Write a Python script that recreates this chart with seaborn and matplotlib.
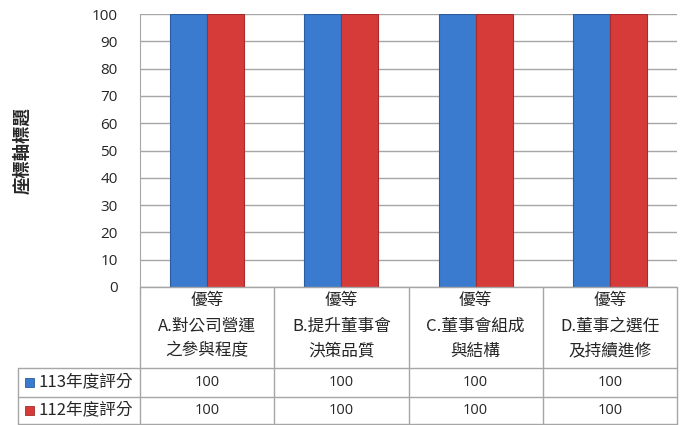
import pandas as pd
import seaborn as sns
import matplotlib.pyplot as plt
import matplotlib.transforms as mtransforms
from matplotlib.lines import Line2D
from matplotlib.patches import Rectangle

# Chart data
categories = ['A.對公司營運\n之參與程度', 'B.提升董事會\n決策品質', 'C.董事會組成\n與結構', 'D.董事之選任\n及持續進修']
grades = ['優等', '優等', '優等', '優等']
series = ['113年度評分', '112年度評分']
scores_113 = [100, 100, 100, 100]
scores_112 = [100, 100, 100, 100]
y_ticks = [0, 10, 20, 30, 40, 50, 60, 70, 80, 90, 100]
y_title = '座標軸標題'

colors = ['#3A7BD0', '#D63B3A']
edge_colors = ['#2A5C9E', '#A52C2B']
grid_color = '#A6A6A6'
num_font = ['Open Sans', 'DejaVu Sans']

df = pd.DataFrame({
    'category': categories * 2,
    'series': [series[0]] * len(categories) + [series[1]] * len(categories),
    'score': scores_113 + scores_112,
})

sns.set_style('white')
plt.rcParams['font.family'] = ['Noto Sans CJK TC', 'DejaVu Sans']

W, H = 688, 425
fig = plt.figure(figsize=(W / 100, H / 100), dpi=100)
ax = fig.add_axes([140 / W, 1 - 287 / H, (677 - 140) / W, (287 - 14) / H])

sns.barplot(data=df, x='category', y='score', hue='series', palette=colors,
            saturation=1, width=0.55, legend=False, ax=ax, zorder=3, linewidth=0.8)

# darker edge per series
for i, cont in enumerate(ax.containers):
    for bar in cont:
        bar.set_edgecolor(edge_colors[i])

ax.set_ylim(0, 100)
ax.set_xlim(-0.5, len(categories) - 0.5)
ax.set_yticks(y_ticks)
ax.set_yticklabels([str(v) for v in y_ticks], fontsize=11, family=num_font)
ax.tick_params(axis='y', length=0, pad=16)
ax.set_xticks([])
ax.set_xlabel('')
ax.set_ylabel('')
ax.yaxis.grid(True, color=grid_color, linewidth=1, zorder=0)
for side in ['top', 'right', 'bottom']:
    ax.spines[side].set_visible(False)
ax.spines['left'].set_color(grid_color)

fig.text(22 / W, 1 - 151 / H, y_title, rotation=90, fontsize=12.5, fontweight='bold',
         ha='center', va='center')

# data table below the plot
trans = mtransforms.blended_transform_factory(ax.transData, fig.transFigure)
y_top = 1 - 287 / H
y_hdr = 1 - 368 / H
y_r1 = 1 - 397 / H
y_r2 = 1 - 424 / H
x_leg = 18 / W
x_right = 677 / W

def hline(x0, x1, y):
    fig.add_artist(Line2D([x0, x1], [y, y], color=grid_color, lw=1, transform=fig.transFigure))

def vline(x, y0, y1):
    fig.add_artist(Line2D([x, x], [y0, y1], color=grid_color, lw=1, transform=fig.transFigure))

hline(140 / W, x_right, y_top)
hline(x_leg, x_right, y_hdr)
hline(x_leg, x_right, y_r1)
hline(x_leg, x_right, y_r2)
for k in range(len(categories) + 1):
    xf = fig.transFigure.inverted().transform(ax.transData.transform((k - 0.5, 0)))[0]
    vline(xf, y_r2, y_top)
vline(x_leg, y_r2, y_hdr)

for k, (g, c) in enumerate(zip(grades, categories)):
    lines = [g] + c.split('\n')
    for line, yp in zip(lines, [300, 326, 351]):
        fig.text(k, 1 - yp / H, line, transform=trans, ha='center', va='center', fontsize=12)
    fig.text(k, 1 - 383 / H, str(scores_113[k]), transform=trans, ha='center', va='center',
             fontsize=10.5, family=num_font)
    fig.text(k, 1 - 411 / H, str(scores_112[k]), transform=trans, ha='center', va='center',
             fontsize=10.5, family=num_font)

for i, (name, yc) in enumerate(zip(series, [382, 410])):
    fig.add_artist(Rectangle((25 / W, 1 - (yc + 4.5) / H), 9 / W, 9 / H, transform=fig.transFigure,
                             facecolor=colors[i], edgecolor=edge_colors[i], lw=0.6))
    fig.text(38 / W, 1 - yc / H, name, ha='left', va='center', fontsize=12)

fig.savefig('out.png', dpi=100)
